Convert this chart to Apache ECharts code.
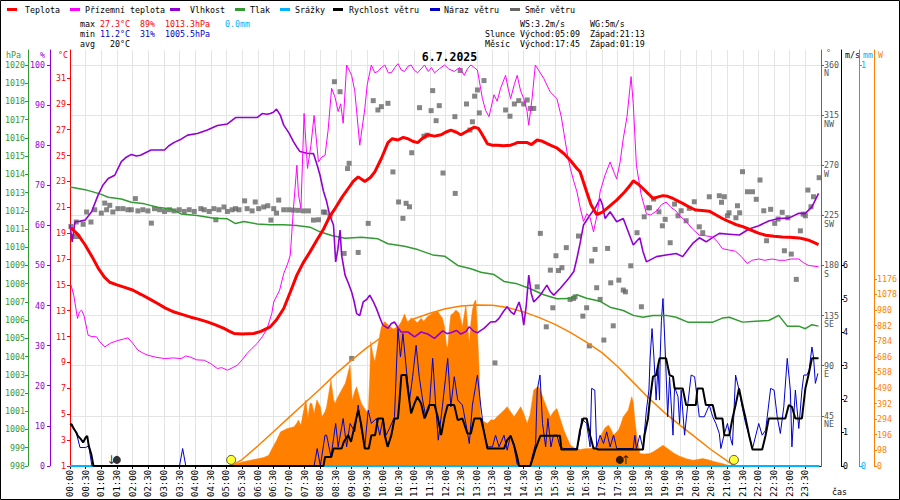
<!DOCTYPE html>
<html><head><meta charset="utf-8">
<script src="https://cdn.jsdelivr.net/npm/echarts@6/dist/echarts.min.js"></script>
<style>html,body{margin:0;padding:0;background:#fff}#c{width:900px;height:500px}</style>
</head><body><div id="c"></div>
<script>
// ---------- DATA (time in hours, value in axis units) ----------
const temperature = [[0.03,19.4],[0.25,18.9],[0.48,18.1],[0.7,17.2],[0.9,16.3],[1.1,15.6],[1.27,15.2],[1.5,15.0],[1.75,14.8],[2.0,14.6],[2.28,14.25],[2.55,13.9],[2.8,13.56],[3.05,13.2],[3.33,12.9],[3.6,12.7],[3.86,12.5],[4.1,12.35],[4.39,12.14],[4.65,11.9],[4.92,11.63],[5.1,11.4],[5.24,11.24],[5.5,11.2],[5.87,11.24],[6.1,11.4],[6.4,11.75],[6.6,12.3],[6.83,13.17],[7.05,14.5],[7.25,15.75],[7.45,16.7],[7.67,17.55],[7.9,18.5],[8.1,19.3],[8.3,20.3],[8.47,20.9],[8.7,21.8],[8.89,22.45],[9.05,23.0],[9.21,23.35],[9.42,23.0],[9.6,23.3],[9.74,23.74],[9.95,24.77],[10.16,26.0],[10.3,26.3],[10.48,26.2],[10.65,26.4],[10.8,26.3],[10.95,26.1],[11.11,26.0],[11.25,26.3],[11.43,26.6],[11.65,26.5],[11.86,26.6],[12.0,26.8],[12.17,26.96],[12.35,26.8],[12.49,26.6],[12.7,26.9],[12.92,27.2],[13.05,27.1],[13.13,26.8],[13.25,26.3],[13.34,25.9],[13.5,25.8],[13.66,25.8],[13.85,25.75],[14.08,25.8],[14.2,25.9],[14.29,26.0],[14.45,26.0],[14.61,26.0],[14.75,25.85],[14.93,26.2],[15.1,26.1],[15.35,25.8],[15.55,25.6],[15.78,25.16],[16.0,24.6],[16.2,24.0],[16.3,23.74],[16.51,22.2],[16.65,21.2],[16.83,20.44],[17.0,20.6],[17.15,20.9],[17.3,21.2],[17.47,21.55],[17.73,22.2],[17.9,22.7],[18.0,23.04],[18.15,22.8],[18.31,22.45],[18.5,22.0],[18.63,21.68],[18.8,21.8],[18.95,21.9],[19.1,21.85],[19.27,21.68],[19.45,21.45],[19.58,21.3],[19.8,21.0],[20.0,20.78],[20.2,20.75],[20.43,20.7],[20.65,20.4],[20.85,20.13],[21.05,19.9],[21.27,19.67],[21.5,19.5],[21.7,19.3],[22.0,19.0],[22.23,18.84],[22.5,18.75],[22.76,18.7],[23.0,18.68],[23.29,18.63],[23.45,18.55],[23.6,18.46],[23.75,18.3],[23.92,18.12]];

const groundTemp = [[0.03,15.0],[0.12,14.2],[0.24,12.4],[0.3,12.9],[0.37,13.04],[0.45,12.6],[0.58,11.1],[0.7,11.0],[0.85,10.98],[0.95,10.6],[1.11,10.2],[1.3,10.5],[1.53,10.7],[1.7,10.8],[1.85,10.9],[2.0,10.5],[2.17,9.95],[2.35,9.7],[2.49,9.56],[2.75,9.4],[3.02,9.3],[3.3,9.35],[3.55,9.3],[3.7,9.5],[3.86,9.4],[4.05,9.2],[4.29,9.17],[4.5,8.9],[4.71,8.53],[4.85,8.6],[5.03,8.4],[5.2,8.6],[5.35,8.79],[5.5,9.2],[5.66,9.7],[5.82,10.1],[5.98,10.47],[6.15,11.0],[6.3,11.63],[6.45,12.8],[6.51,13.68],[6.7,14.6],[6.83,15.88],[6.95,16.6],[7.04,17.3],[7.14,20.9],[7.25,24.25],[7.3,22.0],[7.38,20.9],[7.48,28.25],[7.59,24.0],[7.7,25.8],[7.8,28.1],[7.94,24.5],[8.05,24.9],[8.15,25.0],[8.25,27.0],[8.36,30.2],[8.47,29.5],[8.57,28.4],[8.65,29.0],[8.73,27.5],[8.84,32.0],[9.0,31.2],[9.1,30.0],[9.26,25.8],[9.42,28.6],[9.5,30.5],[9.63,32.0],[9.74,31.4],[9.84,31.5],[9.95,31.8],[10.06,32.0],[10.17,31.4],[10.27,31.4],[10.38,31.8],[10.48,32.1],[10.59,31.6],[10.69,31.5],[10.8,31.9],[10.9,32.0],[11.0,31.6],[11.11,31.4],[11.22,31.7],[11.33,32.0],[11.45,31.5],[11.55,31.8],[11.65,31.4],[11.8,31.7],[11.97,32.0],[12.1,31.7],[12.28,31.5],[12.45,31.8],[12.6,31.2],[12.7,31.7],[12.81,32.0],[12.92,31.8],[13.02,31.6],[13.18,29.4],[13.28,28.5],[13.39,28.0],[13.55,29.7],[13.65,29.2],[13.76,30.2],[13.92,31.2],[14.0,30.2],[14.08,29.4],[14.2,30.5],[14.29,31.2],[14.4,30.0],[14.5,29.4],[14.6,28.5],[14.66,27.35],[14.77,29.5],[14.87,32.0],[15.0,31.5],[15.14,30.96],[15.25,30.4],[15.35,29.9],[15.56,29.4],[15.7,28.0],[15.78,26.8],[15.9,25.0],[15.99,24.0],[16.1,23.0],[16.2,22.2],[16.3,21.0],[16.41,19.9],[16.52,20.5],[16.62,20.2],[16.73,19.1],[16.85,20.5],[16.94,22.2],[17.1,23.5],[17.26,24.5],[17.4,23.6],[17.47,23.2],[17.58,24.5],[17.68,26.3],[17.8,28.0],[17.93,31.1],[18.0,29.0],[18.1,24.25],[18.25,22.0],[18.42,20.5],[18.55,20.4],[18.74,20.7],[18.9,21.2],[19.05,21.4],[19.2,21.0],[19.37,20.7],[19.5,20.3],[19.69,19.9],[19.9,19.3],[20.11,18.84],[20.3,18.8],[20.54,18.7],[20.7,18.3],[20.85,17.8],[21.05,17.7],[21.27,17.6],[21.45,17.2],[21.64,16.65],[21.8,16.9],[22.01,17.0],[22.2,16.9],[22.44,17.0],[22.65,16.9],[22.86,16.9],[23.05,17.0],[23.29,17.0],[23.45,16.7],[23.6,16.5],[23.92,16.4]];

const humidity = [[0.0,60.1],[0.07,55.9],[0.16,60.9],[0.3,61.0],[0.48,61.3],[0.69,63.4],[0.9,67.6],[1.05,70.0],[1.22,71.7],[1.43,72.5],[1.64,75.9],[1.8,77.0],[1.96,77.7],[2.12,77.3],[2.25,77.5],[2.38,78.0],[2.59,78.8],[3.02,78.8],[3.15,79.8],[3.33,80.7],[3.55,81.5],[3.76,82.5],[4.07,82.9],[4.39,83.8],[4.71,84.9],[5.03,85.3],[5.29,86.9],[5.66,86.9],[5.98,86.9],[6.14,87.9],[6.3,87.7],[6.4,87.9],[6.5,88.2],[6.6,89.0],[6.72,87.5],[6.83,85.0],[7.0,83.0],[7.14,80.9],[7.25,79.5],[7.35,78.4],[7.57,78.0],[7.78,77.9],[7.9,75.0],[7.99,72.5],[8.1,68.5],[8.2,66.0],[8.3,62.5],[8.42,60.1],[8.49,50.9],[8.56,54.0],[8.63,58.8],[8.68,52.6],[8.79,47.6],[8.9,45.5],[9.0,43.4],[9.08,41.0],[9.16,38.0],[9.26,37.5],[9.37,40.9],[9.48,41.5],[9.58,42.6],[9.69,41.0],[9.79,39.3],[9.9,37.0],[10.0,35.1],[10.16,34.3],[10.27,35.5],[10.37,35.9],[10.48,34.5],[10.58,33.4],[10.8,33.4],[11.01,32.2],[11.22,33.4],[11.43,32.9],[11.65,31.8],[11.91,33.7],[12.05,33.0],[12.17,33.2],[12.35,33.8],[12.49,32.9],[12.65,33.5],[12.76,34.7],[12.9,33.6],[13.02,33.2],[13.13,33.8],[13.23,34.3],[13.44,35.9],[13.6,36.0],[13.71,36.8],[13.85,38.5],[13.97,39.7],[14.08,38.5],[14.19,37.8],[14.35,40.9],[14.45,38.0],[14.5,35.1],[14.58,40.0],[14.66,47.6],[14.74,43.0],[14.82,40.9],[15.03,42.6],[15.24,45.1],[15.35,43.5],[15.46,42.6],[15.67,44.3],[15.94,46.8],[16.1,48.5],[16.2,51.8],[16.3,55.5],[16.41,60.1],[16.62,62.6],[16.8,64.5],[16.94,66.7],[17.02,65.0],[17.1,61.7],[17.26,63.4],[17.47,60.9],[17.68,61.7],[17.84,58.4],[18.0,55.1],[18.21,56.9],[18.31,53.5],[18.42,50.9],[18.74,52.2],[19.05,52.6],[19.37,53.0],[19.58,52.2],[19.75,54.0],[19.9,55.5],[20.11,56.9],[20.33,55.9],[20.54,57.0],[20.75,58.0],[21.07,57.8],[21.39,57.6],[21.7,59.1],[22.01,59.9],[22.33,61.1],[22.65,61.7],[22.97,61.8],[23.29,63.0],[23.5,63.0],[23.71,64.6],[23.92,68.0]];

const pressure = [[0.0,1013.3],[0.48,1013.16],[0.79,1013.01],[1.0,1012.9],[1.22,1012.74],[1.64,1012.65],[1.96,1012.47],[2.38,1012.38],[2.8,1012.19],[3.23,1012.1],[3.55,1011.83],[4.07,1011.74],[4.6,1011.59],[5.03,1011.56],[5.29,1011.3],[5.56,1011.41],[5.98,1011.28],[6.4,1011.24],[6.83,1011.24],[7.25,1011.19],[7.67,1011.1],[7.94,1010.88],[8.36,1010.64],[8.79,1010.49],[9.31,1010.55],[9.84,1010.46],[10.16,1010.19],[10.69,1010.05],[11.11,1009.87],[11.59,1009.58],[11.97,1009.51],[12.39,1009.0],[12.81,1008.82],[13.13,1008.63],[13.55,1008.5],[13.87,1008.12],[14.29,1007.99],[14.71,1007.72],[15.14,1007.39],[15.56,1007.17],[15.99,1007.18],[16.2,1007.39],[16.51,1007.2],[16.94,1007.03],[17.26,1006.71],[17.68,1006.53],[18.0,1006.26],[18.31,1006.16],[18.63,1006.25],[19.05,1006.26],[19.37,1006.16],[19.74,1005.89],[20.11,1005.89],[20.54,1005.89],[20.85,1006.11],[21.07,1006.16],[21.49,1005.89],[21.91,1005.94],[22.33,1005.98],[22.65,1006.26],[22.92,1005.67],[23.29,1005.67],[23.5,1005.53],[23.71,1005.75],[23.92,1005.67]];

const rainfall = [[0.0,0],[23.95,0]];

const windSpeed = [[0.0,1.25],[0.05,1.25],[0.1,1.15],[0.2,1.0],[0.25,0.9],[0.35,0.8],[0.42,0.7],[0.5,0.85],[0.55,0.9],[0.6,0.6],[0.68,0.35],[0.75,0],[8.1,0],[8.15,0.27],[8.35,0.27],[8.42,0.52],[8.68,0.52],[8.75,0.72],[8.89,0.92],[8.98,0.72],[9.1,1.22],[9.21,1.67],[9.3,1.27],[9.42,0.52],[9.55,0.52],[9.63,0.92],[9.75,0.92],[9.84,1.42],[10.0,1.42],[10.06,0.92],[10.15,0.57],[10.27,0.92],[10.37,1.42],[10.48,1.42],[10.53,1.97],[10.59,2.72],[10.74,2.72],[10.8,2.27],[10.9,1.57],[11.01,1.87],[11.1,2.07],[11.22,1.87],[11.33,1.42],[11.48,1.82],[11.65,1.82],[11.75,1.47],[11.86,0.92],[11.97,1.47],[12.07,1.82],[12.28,1.82],[12.39,1.37],[12.54,1.42],[12.7,0.97],[12.81,0.97],[12.92,1.42],[13.13,1.42],[13.23,1.02],[13.34,0.52],[13.87,0.52],[13.97,0.77],[14.08,0.9],[14.19,0.62],[14.29,0.27],[14.35,0],[14.71,0],[14.8,0.27],[14.88,0.52],[15.03,0.9],[15.66,0.9],[15.7,0.49],[16.2,0.49],[16.3,1.07],[16.4,1.42],[16.51,1.42],[16.62,0.92],[16.73,0.52],[16.83,0.52],[16.88,0.49],[18.31,0.49],[18.36,0.92],[18.47,1.42],[18.52,1.87],[18.63,2.67],[18.73,2.72],[18.84,3.22],[19.05,3.22],[19.16,2.72],[19.27,2.67],[19.32,2.32],[19.58,2.32],[19.69,1.82],[20.0,1.82],[20.05,2.32],[20.22,2.32],[20.32,1.82],[20.54,1.82],[20.64,1.42],[20.85,1.42],[20.91,0.92],[21.07,0.92],[21.17,1.42],[21.27,1.82],[21.38,2.32],[21.49,1.82],[21.59,1.42],[21.7,0.92],[21.81,0.49],[22.12,0.49],[22.23,0.92],[22.33,1.42],[22.86,1.42],[22.97,1.82],[23.07,1.77],[23.18,1.42],[23.39,1.42],[23.5,2.32],[23.6,2.72],[23.71,3.22],[23.92,3.22]];

const windGust = [[0.0,1.25],[0.2,1.0],[0.32,0.55],[0.5,0.55],[0.6,0.6],[0.7,0],[3.5,0],[3.6,0.52],[3.7,0],[7.8,0],[7.9,0.52],[8.0,0],[8.15,0.92],[8.2,0.92],[8.34,0.27],[8.49,1.27],[8.57,0.57],[8.73,1.42],[8.84,0.57],[8.95,1.27],[9.1,1.02],[9.21,1.82],[9.31,1.1],[9.42,0.57],[9.53,1.67],[9.63,1.27],[9.79,1.42],[9.9,0.92],[10.0,1.42],[10.1,0.92],[10.2,1.1],[10.37,1.47],[10.48,4.11],[10.56,3.26],[10.64,3.96],[10.74,2.97],[10.85,1.97],[10.95,2.67],[11.06,3.61],[11.16,2.67],[11.27,1.97],[11.37,1.47],[11.48,1.72],[11.59,3.22],[11.69,1.77],[11.77,0.77],[11.9,1.77],[12.07,3.22],[12.17,1.77],[12.28,2.67],[12.39,1.97],[12.54,1.82],[12.65,1.27],[12.76,0.67],[12.86,1.82],[13.02,2.72],[13.13,1.77],[13.23,1.02],[13.34,0.57],[13.5,0.57],[13.6,0.92],[13.71,0.57],[13.87,0.92],[13.97,0.47],[14.08,0.92],[14.19,0.57],[14.29,0.05],[14.35,0],[14.71,0],[14.77,0.27],[14.88,0.67],[14.93,2.27],[15.02,2.72],[15.1,1.27],[15.2,0.57],[15.27,1.42],[15.37,0.57],[15.45,0.92],[15.56,0.92],[15.66,0.57],[15.78,0.52],[16.2,0.52],[16.3,0.92],[16.35,1.42],[16.51,1.27],[16.62,0.57],[16.67,2.32],[16.77,2.27],[16.83,0.57],[16.94,0.92],[17.05,0.67],[17.15,1.02],[17.26,0.57],[17.37,0.92],[17.47,0.52],[18.0,0.52],[18.05,0.92],[18.1,0.52],[18.21,0.92],[18.31,0.52],[18.42,1.67],[18.5,2.27],[18.54,3.26],[18.6,4.11],[18.66,3.26],[18.73,1.97],[18.79,2.97],[18.84,1.97],[18.86,3.26],[18.9,4.36],[18.95,5.01],[19.03,3.26],[19.1,1.47],[19.16,2.67],[19.27,0.92],[19.32,2.37],[19.43,2.07],[19.48,1.27],[19.53,2.27],[19.64,0.92],[19.74,1.82],[19.85,2.72],[19.96,2.67],[20.05,1.97],[20.11,1.47],[20.27,1.47],[20.43,1.82],[20.54,1.47],[20.64,1.27],[20.75,0.97],[20.8,0.52],[20.9,0.92],[21.01,1.27],[21.11,0.82],[21.17,0.62],[21.27,2.72],[21.38,2.27],[21.49,1.72],[21.59,1.27],[21.7,0.92],[21.81,0.52],[22.01,1.27],[22.12,0.92],[22.23,1.07],[22.39,2.32],[22.5,2.27],[22.6,1.47],[22.7,0.97],[22.81,1.77],[22.92,3.22],[23.02,2.27],[23.07,0.57],[23.18,2.27],[23.29,1.12],[23.39,2.27],[23.45,2.72],[23.55,2.72],[23.62,2.87],[23.71,3.56],[23.76,3.26],[23.82,2.47],[23.9,2.77]];

const windDirection = [[0.03,215],[0.1,206],[0.2,219],[0.25,206],[0.42,217],[0.53,228],[0.67,219],[0.79,230],[1.0,227],[1.11,236],[1.17,230],[1.27,234],[1.37,228],[1.53,231],[1.69,231],[1.85,230],[1.96,230],[2.09,240],[2.17,229],[2.33,230],[2.49,229],[2.6,218],[2.7,231],[2.86,230],[3.02,228.5],[3.18,230],[3.33,229],[3.49,230],[3.65,228.5],[3.81,230],[3.97,228.5],[4.18,231],[4.29,230],[4.45,228.5],[4.6,231],[4.66,221],[4.76,230],[4.92,232.5],[5.03,228.5],[5.18,230],[5.29,231],[5.4,230],[5.58,238],[5.66,231],[5.82,229],[5.92,237],[6.03,231],[6.19,232.5],[6.32,233.6],[6.42,220.7],[6.51,231],[6.6,227],[6.67,238.7],[6.83,230],[6.99,230],[7.14,229.7],[7.3,229.5],[7.46,229],[7.62,229],[7.78,220.7],[7.94,221],[8.1,228],[8.15,227.7],[8.31,224.4],[8.45,345],[8.63,336],[8.76,190.8],[8.87,267],[8.92,271.7],[9.0,96.5],[9.05,13.2],[9.21,191.7],[9.53,217.8],[9.69,328],[9.84,319.6],[9.95,322.6],[10.16,325.6],[10.32,264],[10.5,237],[10.64,222.3],[10.74,235.8],[10.85,232.7],[10.92,281.2],[11.01,14.1],[11.17,321.7],[11.31,296],[11.41,297],[11.54,319],[11.59,337],[11.7,310],[11.8,323.5],[11.92,263],[12.01,9],[12.07,9],[12.12,9],[12.3,313.6],[12.31,244.7],[12.47,355],[12.67,325],[12.78,301.6],[12.86,309],[12.93,332],[13.02,337.6],[13.08,317],[13.23,346],[13.32,14.7],[13.5,30.5],[13.58,92.5],[13.68,9],[13.75,9],[13.81,9],[13.92,319.6],[14.06,314],[14.2,325],[14.34,328],[14.5,325],[14.61,328.6],[14.71,321],[14.82,321],[14.93,160.8],[15.03,208.8],[15.22,124.9],[15.35,175.8],[15.43,142],[15.53,188.7],[15.61,175.4],[15.72,178],[15.86,196],[15.98,149.5],[16.09,150.4],[16.14,151.8],[16.25,206.4],[16.39,134.5],[16.51,142],[16.6,107.8],[16.67,184],[16.78,194.4],[16.83,160],[16.94,149.5],[17.06,113],[17.18,195.3],[17.28,164.4],[17.36,125.8],[17.54,166.8],[17.68,157.9],[17.75,156.3],[17.92,179.7],[18.12,209.4],[18.26,142.9],[18.35,223.7],[18.47,231.8],[18.52,231.8],[18.65,239.6],[18.82,228.2],[18.93,215.6],[19.02,221.4],[19.18,200.4],[19.32,235.1],[19.43,224.6],[19.53,229.1],[19.69,220.1],[19.79,231.3],[19.95,237.2],[20.11,214.7],[20.22,209.4],[20.43,241.7],[20.75,242.6],[20.82,236.7],[20.91,241.7],[21.01,224.6],[21.06,227.3],[21.28,222.8],[21.33,233.6],[21.4,227.3],[21.49,264.2],[21.65,246.2],[21.81,246.2],[21.93,239.4],[22.05,256.7],[22.17,229.1],[22.26,202.2],[22.39,230.4],[22.52,217.8],[22.63,221.7],[22.76,227.7],[22.83,193.2],[22.94,222.8],[23.05,190.2],[23.21,167.5],[23.34,211.1],[23.43,226.1],[23.5,224.6],[23.58,247.7],[23.68,232.7],[23.76,241.7],[23.94,258.8]];

const solarRadiation = [[5.2,0],[5.3,12],[5.5,25],[5.77,36],[6.0,45],[6.19,53],[6.35,67],[6.46,110],[6.6,160],[6.73,214],[6.85,225],[6.94,235],[7.05,240],[7.16,246],[7.25,270],[7.3,288],[7.38,255],[7.47,351],[7.54,414],[7.6,300],[7.67,393],[7.73,393],[7.8,330],[7.89,414],[8.0,372],[8.05,309],[8.15,340],[8.2,372],[8.34,540],[8.42,420],[8.47,393],[8.55,430],[8.68,477],[8.8,520],[8.95,634],[9.02,414],[9.1,470],[9.16,498],[9.25,430],[9.31,393],[9.45,350],[9.53,330],[9.58,560],[9.61,781],[9.68,700],[9.74,655],[9.84,760],[9.95,875],[10.06,907],[10.2,880],[10.37,855],[10.5,880],[10.59,907],[10.69,955],[10.8,897],[10.9,930],[11.01,917],[11.1,900],[11.22,928],[11.3,910],[11.43,939],[11.59,960],[11.75,970],[11.9,930],[11.97,875],[12.03,760],[12.07,739],[12.12,860],[12.17,949],[12.25,960],[12.33,980],[12.44,960],[12.54,875],[12.6,950],[12.65,1012],[12.7,900],[12.76,771],[12.81,900],[12.86,980],[12.92,1030],[12.97,1043],[13.02,855],[13.07,623],[13.12,309],[13.2,280],[13.34,267],[13.45,290],[13.55,288],[13.65,310],[13.76,330],[13.87,350],[13.97,372],[14.08,340],[14.19,309],[14.3,340],[14.4,372],[14.5,330],[14.61,267],[14.7,320],[14.82,477],[14.9,490],[14.98,498],[15.06,460],[15.14,414],[15.25,360],[15.35,309],[15.45,340],[15.56,361],[15.66,300],[15.78,225],[15.9,170],[15.99,130],[16.15,110],[16.3,103],[16.45,108],[16.62,110],[16.75,115],[16.83,130],[16.92,170],[17.0,204],[17.1,240],[17.21,256],[17.3,225],[17.37,193],[17.45,210],[17.53,225],[17.6,260],[17.68,309],[17.76,330],[17.84,351],[17.95,435],[18.0,400],[18.05,288],[18.12,180],[18.21,78],[18.35,75],[18.53,78],[18.65,90],[18.8,110],[18.95,130],[19.05,115],[19.17,99],[19.3,80],[19.48,61],[19.7,45],[19.91,36],[20.05,40],[20.22,46],[20.4,38],[20.54,30],[20.7,22],[20.85,15],[21.0,5],[21.07,0]];

const solarTheoretical = [[5.15,0],[5.5,40],[6,125],[6.5,215],[7,305],[7.5,395],[8,485],[8.5,580],[9,665],[9.5,745],[10,815],[10.5,875],[11,925],[11.5,960],[12,988],[12.5,1005],[13,1012],[13.5,1010],[14,995],[14.5,968],[15,932],[15.5,890],[16,838],[16.5,778],[17,712],[17.5,625],[18,525],[18.5,425],[19,335],[19.5,255],[20,178],[20.5,100],[21,32],[21.22,0]];

const sunEvents = [5.15, 21.217];                       // sunrise 05:09, sunset 21:13
const moonEvents = [[1.317, '↓'], [17.75, '↑']];        // moonset 01:19, moonrise 17:45

// tick labels
const tempTicks = [1,3,5,7,9,11,13,15,17,19,21,23,25,27,29,31];
const humTicks = [0,10,20,30,40,50,60,70,80,90,100];
const presTicks = [998,999,1000,1001,1002,1003,1004,1005,1006,1007,1008,1009,1010,1011,1012,1013,1014,1015,1016,1017,1018,1019,1020];
const dirTicks = [45,90,135,180,225,270,315,360];
const dirNames = ['NE','E','SE','S','SW','W','NW','N'];
const windTicks = [0,1,2,3,4,5,6];
const rainTicks = [0,1];
const solarTicks = [0,98,196,294,392,490,588,686,784,882,980,1078,1176];

const legendNames = ['Teplota','Přízemní teplota','Vlhkost','Tlak','Srážky','Rychlost větru','Náraz větru','Směr větru'];
const statsMax = ['27.3°C','89%','1013.3hPa','0.0mm'];
const statsMin = ['11.2°C','31%','1005.5hPa'];
const statsAvg = ['20°C'];
const infoLines = ['       WS:3.2m/s     WG:5m/s', 'Slunce Východ:05:09  Západ:21:13', 'Měsíc  Východ:17:45  Západ:01:19'];
const titleText = '6.7.2025';

// ---------- LAYOUT / STYLE ----------
const MONO = '"DejaVu Sans Mono", "Liberation Mono", monospace';
const FS = 8.3, CW = FS * 0.6021;
const GRID = {left: 70, right: 76, top: 50, bottom: 34};
const R = (500 - GRID.top - GRID.bottom) / (500 - GRID.bottom - 65);
const ext = (min, refMax) => min + (refMax - min) * R;
const C = {temp:'#ff0000', ground:'#ff00ff', hum:'#9400d3', pres:'#339933', rain:'#00b4ff', speed:'#000000', gust:'#0000cc', dir:'#666666', solar:'#ff8000'};
const legendColors = [C.temp, C.ground, C.hum, C.pres, C.rain, C.speed, C.gust, C.dir];
const legendPos = [[7,25],[70,85],[170,190],[235,250],[280,295],[333,349],[430,444],[510,525]];
const MARK_LEVEL = 0.18;

function txt(x, y, text, color, opts) {
  return Object.assign({type:'text', x: x, y: y, silent: true, z: 100,
    style: {text: text, fill: color, font: FS + 'px ' + MONO, align: 'left', verticalAlign: 'middle'}}, opts || {});
}
const graphics = [];
graphics.push({type:'rect', shape:{x:0.5, y:0.5, width:899, height:499}, style:{fill:'none', stroke:'#000', lineWidth:1}, silent:true});
legendNames.forEach((n, i) => {
  graphics.push({type:'rect', shape:{x: legendPos[i][0], y: 8, width: 10, height: 3}, style:{fill: legendColors[i]}, silent:true});
  graphics.push(txt(legendPos[i][1], 9.5, n, '#000'));
});
const SX = 80;
graphics.push(txt(SX, 24, 'max', '#000'));
[[4, statsMax[0], '#ff0000'], [12, statsMax[1], '#ff0000'], [17, statsMax[2], '#ff0000'], [29, statsMax[3], C.rain]]
  .forEach(s => graphics.push(txt(SX + s[0]*CW, 24, s[1], s[2])));
graphics.push(txt(SX, 34, 'min', '#000'));
[[4, statsMin[0]], [12, statsMin[1]], [17, statsMin[2]]].forEach(s => graphics.push(txt(SX + s[0]*CW, 34, s[1], '#0000cc')));
graphics.push(txt(SX, 44, 'avg', '#000'));
graphics.push(txt(SX + 6*CW, 44, statsAvg[0], '#000'));
infoLines.forEach((l, i) => graphics.push(txt(485, 24 + 10*i, l, '#000')));
graphics.push({type:'text', x: 449.5, y: 57, z: 100, silent: true,
  style:{text: titleText, fill:'#000', font:'bold 11.5px ' + MONO, align:'center', verticalAlign:'middle'}});
graphics.push(txt(6, 54.5, 'hPa', C.pres));
graphics.push(txt(40, 54.5, '%', C.hum));
graphics.push(txt(58, 54.5, '°C', C.temp));
graphics.push(txt(826, 53, '°', C.dir));
graphics.push(txt(845, 54.5, 'm/s', '#000'));
graphics.push(txt(863, 54.5, 'mm', C.rain));
graphics.push(txt(878, 54.5, 'W', C.solar));
graphics.push(txt(832, 492, 'čas', '#000'));

const plain = v => String(v);
function yAx(opt) {
  const base = {
    type:'value', position: opt.pos, offset: opt.offset, min: opt.min, max: opt.max,
    axisLine:{show:true, onZero:false, lineStyle:{color: opt.color, width: 1}},
    axisTick:{show:true, length:3, customValues: opt.ticks, lineStyle:{color: opt.color}},
    axisLabel:{show:true, customValues: opt.ticks, color: opt.labelColor || opt.color, fontFamily: MONO, fontSize: FS, margin: opt.margin,
      formatter: opt.formatter || plain, lineHeight: opt.lineHeight},
    splitLine:{show:false}
  };
  if (opt.interval) base.interval = opt.interval;
  if (opt.split) base.splitLine = {show:true, lineStyle:{color:'#e4e4e4', width:1}};
  return base;
}

const yAxes = [
  yAx({pos:'left', offset:0, min:1, max:ext(1,32), color:C.temp, ticks:tempTicks, margin:4}),
  yAx({pos:'left', offset:20, min:0, max:ext(0,100), color:C.hum, ticks:humTicks, margin:5}),
  yAx({pos:'left', offset:42, min:998, max:ext(998,1020), color:C.pres, ticks:presTicks, margin:3}),
  yAx({pos:'right', offset:0, min:0, max:ext(0,360), interval:45, split:true, color:'#666', labelColor:'#555', ticks:dirTicks, margin:3, lineHeight:8.5,
       formatter: v => '\n' + v + '\n' + (dirNames[dirTicks.indexOf(v)] || '')}),
  yAx({pos:'right', offset:20, min:0, max:ext(0,12), color:'#000', ticks:windTicks, margin:2}),
  yAx({pos:'right', offset:38, min:0, max:ext(0,1), color:C.rain, ticks:rainTicks, margin:2}),
  yAx({pos:'right', offset:53, min:0, max:ext(0,2520), color:C.solar, ticks:solarTicks, margin:3})
];

function hhmm(v) {
  if (v >= 24) return '';
  const h = Math.floor(v + 1e-6), m = Math.round((v - h) * 60);
  return String(h).padStart(2,'0') + ':' + String(m).padStart(2,'0');
}

function line(name, data, yi, color, width, extra) {
  return Object.assign({name: name, type:'line', data: data, yAxisIndex: yi, symbol:'none', silent:true,
    lineStyle:{color: color, width: width}, itemStyle:{color: color}, animation:false}, extra || {});
}

const option = {
  animation: false,
  backgroundColor: '#fff',
  grid: {left: GRID.left, right: GRID.right, top: GRID.top, bottom: GRID.bottom, containLabel: false},
  xAxis: {type:'value', min:0, max:24, interval:0.5,
    axisLine:{show:true, onZero:false, lineStyle:{color:'#000'}},
    axisTick:{show:true, length:3, lineStyle:{color:'#000'}},
    axisLabel:{show:true, rotate:90, margin:4, fontFamily: MONO, fontSize: 9, color:'#000', formatter: hhmm, showMaxLabel: false},
    splitLine:{show:true, lineStyle:{color:'#e4e4e4', width:1}}},
  yAxis: yAxes,
  graphic: graphics,
  series: [
    line('Sluneční záření', solarRadiation, 6, C.solar, 0.5, {areaStyle:{color: C.solar, opacity: 1}}),
    line('Teoretické záření', solarTheoretical, 6, C.solar, 1.5),
    line('Srážky', rainfall, 5, C.rain, 2),
    {name:'Směr větru', type:'scatter', data: windDirection, yAxisIndex: 3, symbol:'rect', symbolSize:5, silent:true,
      itemStyle:{color: C.dir}, animation:false},
    line('Náraz větru', windGust, 4, C.gust, 1),
    line('Rychlost větru', windSpeed, 4, C.speed, 2),
    line('Tlak', pressure, 2, C.pres, 1.5),
    line('Vlhkost', humidity, 1, C.hum, 1.6),
    line('Přízemní teplota', groundTemp, 0, C.ground, 1),
    line('Teplota', temperature, 0, C.temp, 3),
    {name:'Slunce', type:'scatter', yAxisIndex: 4, data: sunEvents.map(t => [t, MARK_LEVEL]), symbol:'circle', symbolSize: 9,
      itemStyle:{color:'#ffff00', borderColor:'#333', borderWidth:1}, silent:true, z: 5},
    {name:'Měsíc', type:'scatter', yAxisIndex: 4, data: moonEvents.map(e => [e[0] + (e[1] === '↓' ? 0.18 : -0.18), MARK_LEVEL]),
      symbol:'circle', symbolSize: 8, itemStyle:{color:'#000'}, silent:true, z: 5},
    {name:'Měsíc šipka', type:'scatter', yAxisIndex: 4, data: moonEvents.map(e => ({value:[e[0], MARK_LEVEL], label:{formatter: e[1]}})),
      symbolSize: 2, itemStyle:{color:'rgba(0,0,0,0)'}, silent:true, z: 6,
      label:{show:true, position:'inside', color:'#000', fontSize: 12, fontFamily:'"DejaVu Sans", sans-serif'}}
  ]
};

const chart = echarts.init(document.getElementById('c'), null, {renderer:'svg', width:900, height:500});
chart.setOption(option);
</script>
</body></html>
